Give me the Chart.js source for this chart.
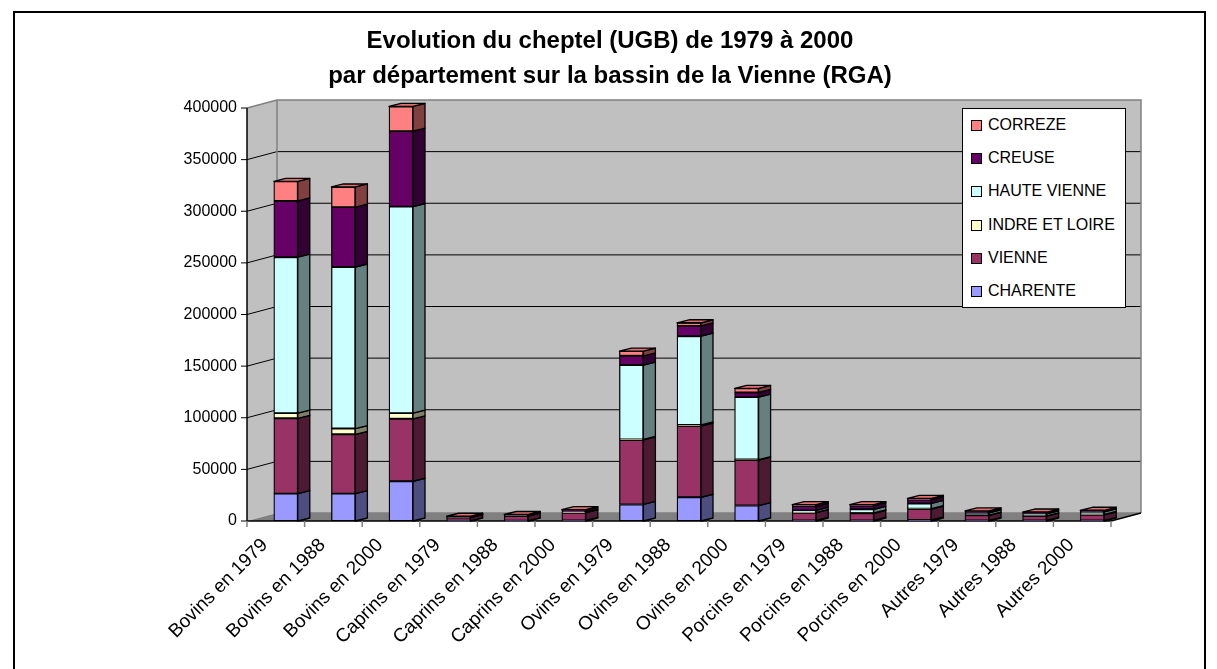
<!DOCTYPE html>
<html>
<head>
<meta charset="utf-8">
<script src="https://cdn.jsdelivr.net/npm/chart.js@4.4.1/dist/chart.umd.min.js"></script>
<style>
  body { margin: 0; background: #fff; font-family: "Liberation Sans", Arial, sans-serif; }
  #frame { position: absolute; left: 13px; top: 11px; width: 1189px; height: 700px; border: 2px solid #000; }
  #chart { position: absolute; left: 0; top: 0; }
  #title { position: absolute; left: 15px; width: 1190px; top: 22px; text-align: center;
           font-weight: bold; font-size: 24px; line-height: 35px; color: #000; }
  #legend { position: absolute; left: 962px; top: 108px; width: 162px; height: 198px;
            border: 1px solid #000; background: #fff; }
  .item { position: absolute; left: 0; height: 20px; font-size: 16px; line-height: 20px; white-space: nowrap; }
  .item span.box { position: absolute; left: 8px; top: 5px; width: 9px; height: 9px; border: 1px solid #000; }
  .item span.txt { position: absolute; left: 25px; top: 0; }
</style>
</head>
<body>
<div id="frame"></div>
<canvas id="chart" width="1217" height="669"></canvas>
<div id="title">Evolution du cheptel (UGB) de 1979 à 2000<br>par département sur la bassin de la Vienne (RGA)</div>
<div id="legend"></div>
<script>
// categories on the x axis
var categories = ['Bovins en 1979', 'Bovins en 1988', 'Bovins en 2000',
                  'Caprins en 1979', 'Caprins en 1988', 'Caprins en 2000',
                  'Ovins en 1979', 'Ovins en 1988', 'Ovins en 2000',
                  'Porcins en 1979', 'Porcins en 1988', 'Porcins en 2000',
                  'Autres 1979', 'Autres 1988', 'Autres 2000'];

// UGB per departement
var charente     = [26500, 26500, 38500,  300,  300,  500, 16000, 23000, 15000,  500,  500,  1000,  500,  500,  500];
var vienne       = [73000, 57500, 60500, 3000, 4500, 7500, 62500, 69000, 44000, 7500, 7000, 10500, 5000, 4200, 5500];
var indreLoire   = [ 5000,  5500,  5500,  100,  100,  200,   500,  1000,   500,  300,  300,   500,  300,  300,  300];
var hauteVienne  = [151000, 156500, 200000, 200, 300,  300, 72000, 86000, 60500, 2000, 3500,  5000, 2000, 2000, 2500];
var creuse       = [54500, 58000, 73000,  500,  600, 2000,  9000, 10000,  4500, 4000, 3500,  3500, 1500, 1300, 1200];
var correze      = [19000, 19500, 24000,  500,  500,  500,  4500,  3000,  4000, 1500, 1000,  1500,  500,  400,  400];

var seriesNames = ['CHARENTE', 'VIENNE', 'INDRE ET LOIRE', 'HAUTE VIENNE', 'CREUSE', 'CORREZE'];
var seriesData  = [charente, vienne, indreLoire, hauteVienne, creuse, correze];
var frontColors = ['#9999ff', '#993366', '#ffffcc', '#ccffff', '#660066', '#ff8080'];
var sideColors  = ['#4d4d80', '#4d1a33', '#808066', '#668080', '#330033', '#804040'];
var topColors   = ['#8080dd', '#862d59', '#e6e6b8', '#b8e6e6', '#550055', '#e07070'];

var yMax = 400000;
var yStep = 50000;

// depth of the walls and of the bars
var DX = 30, DY = -8;
var BDX = 12, BDY = -3;
var SHIFT = 10; // front axis sits left of the bar row

function poly(ctx, pts, fill, stroke, lw) {
	ctx.beginPath();
	ctx.moveTo(pts[0][0], pts[0][1]);
	for (let i = 1; i < pts.length; i++) ctx.lineTo(pts[i][0], pts[i][1]);
	ctx.closePath();
	if (fill) { ctx.fillStyle = fill; ctx.fill(); }
	if (stroke) { ctx.strokeStyle = stroke; ctx.lineWidth = lw || 1; ctx.stroke(); }
}

function line(ctx, x1, y1, x2, y2, color, lw) {
	ctx.beginPath();
	ctx.moveTo(x1, y1);
	ctx.lineTo(x2, y2);
	ctx.strokeStyle = color;
	ctx.lineWidth = lw || 1;
	ctx.stroke();
}

var wallsPlugin = {
	id: 'walls',
	beforeDatasetsDraw(chart) {
		let ctx = chart.ctx;
		let a = chart.chartArea;
		let ys = chart.scales.y;
		let x0 = a.left - SHIFT, x1 = a.right - SHIFT;
		let yb = ys.getPixelForValue(0), yt = ys.getPixelForValue(yMax);
		ctx.save();
		// side wall, back wall, floor
		poly(ctx, [[x0, yb], [x0, yt], [x0 + DX, yt + DY], [x0 + DX, yb + DY]], '#c0c0c0');
		poly(ctx, [[x0 + DX, yt + DY], [x1 + DX, yt + DY], [x1 + DX, yb + DY], [x0 + DX, yb + DY]], '#c0c0c0');
		poly(ctx, [[x0, yb], [x1, yb], [x1 + DX, yb + DY], [x0 + DX, yb + DY]], '#808080');
		// gridlines
		for (let v = yStep; v < yMax; v += yStep) {
			let py = ys.getPixelForValue(v);
			ctx.beginPath();
			ctx.moveTo(x0, py);
			ctx.lineTo(x0 + DX, py + DY);
			ctx.lineTo(x1 + DX, py + DY);
			ctx.strokeStyle = '#000';
			ctx.lineWidth = 1;
			ctx.stroke();
		}
		// wall edges
		ctx.beginPath();
		ctx.moveTo(x0, yt);
		ctx.lineTo(x0 + DX, yt + DY);
		ctx.lineTo(x1 + DX, yt + DY);
		ctx.lineTo(x1 + DX, yb + DY);
		ctx.moveTo(x0 + DX, yt + DY);
		ctx.lineTo(x0 + DX, yb + DY);
		ctx.lineTo(x1 + DX, yb + DY);
		ctx.strokeStyle = '#808080';
		ctx.lineWidth = 1.5;
		ctx.stroke();
		// front axes
		line(ctx, x0, yt, x0, yb, '#000', 1.5);
		line(ctx, x0, yb, x1, yb, '#000', 1.5);
		line(ctx, x1, yb, x1 + DX, yb + DY, '#000', 1.5);
		for (let v = 0; v <= yMax; v += yStep) {
			let py = ys.getPixelForValue(v);
			line(ctx, x0 - 6, py, x0, py, '#000', 1);
		}
		let w = (x1 - x0) / categories.length;
		for (let k = 0; k <= categories.length; k++) {
			line(ctx, x0 + k * w, yb, x0 + k * w, yb + 6, '#808080', 1.5);
		}
		ctx.restore();
	},
	afterDatasetsDraw(chart) {
		let ctx = chart.ctx;
		ctx.save();
		ctx.lineJoin = 'round';
		let topIdx = [];
		for (let d = 0; d < seriesData.length; d++) {
			let meta = chart.getDatasetMeta(d);
			meta.data.forEach(function (bar, i) {
				let p = bar.getProps(['x', 'y', 'base', 'width'], true);
				let r = p.x + p.width / 2;
				poly(ctx, [[r, p.y], [r + BDX, p.y + BDY], [r + BDX, p.base + BDY], [r, p.base]], sideColors[d], '#000', 1.3);
				if (seriesData[d][i] > 0) topIdx[i] = d;
			});
		}
		topIdx.forEach(function (d, i) {
			let bar = chart.getDatasetMeta(d).data[i];
			let p = bar.getProps(['x', 'y', 'base', 'width'], true);
			let l = p.x - p.width / 2, r = p.x + p.width / 2;
			poly(ctx, [[l, p.y], [l + BDX, p.y + BDY], [r + BDX, p.y + BDY], [r, p.y]], topColors[d], '#000', 1.3);
		});
		ctx.restore();
	}
};

var datasets = [];
for (let d = 0; d < seriesData.length; d++) {
	datasets.push({
		label: seriesNames[d],
		data: seriesData[d],
		backgroundColor: frontColors[d],
		borderColor: '#000',
		borderWidth: 1.3,
		borderSkipped: false,
		barThickness: 24,
		clip: false
	});
}

// legend, top entry is the last series
var legend = document.getElementById('legend');
for (let d = seriesNames.length - 1, row = 0; d >= 0; d--, row++) {
	let item = document.createElement('div');
	item.className = 'item';
	item.style.top = (6 + row * 33.2) + 'px';
	item.innerHTML = '<span class="box" style="background:' + frontColors[d] + '"></span><span class="txt">' + seriesNames[d] + '</span>';
	legend.appendChild(item);
}

var config = {
	type: 'bar',
	data: {
		labels: categories,
		datasets: datasets
	},
	options: {
		responsive: false,
		animation: false,
		layout: {
			padding: { top: 108, right: 96, left: 0, bottom: 0 }
		},
		scales: {
			x: {
				stacked: true,
				grid: { display: false, drawTicks: false },
				border: { display: false },
				ticks: {
					autoSkip: false,
					minRotation: 45,
					maxRotation: 45,
					labelOffset: -21,
					padding: 13,
					color: '#000',
					font: { family: 'Liberation Sans', size: 19 }
				},
				afterFit: function (scale) { scale.height = 148; }
			},
			y: {
				stacked: true,
				min: 0,
				max: yMax,
				grid: { display: false, drawTicks: false },
				border: { display: false },
				ticks: {
					stepSize: yStep,
					padding: 20,
					color: '#000',
					font: { family: 'Liberation Sans', size: 16 },
					callback: function (v) { return String(v); }
				},
				afterFit: function (scale) { scale.width = 257; }
			}
		},
		plugins: {
			legend: { display: false },
			title: { display: false },
			tooltip: { enabled: false }
		}
	},
	plugins: [wallsPlugin]
};

var chart = new Chart(document.getElementById('chart'), config);
</script>
</body>
</html>
